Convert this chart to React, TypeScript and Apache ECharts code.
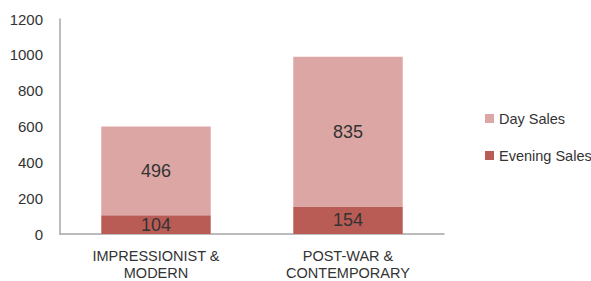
import React, { useEffect, useRef } from "react";
import * as echarts from "echarts";

const categories = ["IMPRESSIONIST &\nMODERN", "POST-WAR &\nCONTEMPORARY"];
const eveningSales = [104, 154];
const daySales = [496, 835];
const yTicks = [0, 200, 400, 600, 800, 1000, 1200];

const FONT = "'Liberation Sans', Arial, sans-serif";

export default function App() {
  const ref = useRef<HTMLDivElement>(null);
  useEffect(() => {
    if (!ref.current) return;
    const chart = echarts.init(ref.current, undefined, { renderer: "svg" });
    chart.setOption({
      animation: false,
      textStyle: { fontFamily: FONT },
      grid: { left: 60, right: 147, top: 19, bottom: 46 },
      legend: {
        orient: "vertical",
        left: 480,
        top: 106,
        itemWidth: 9,
        itemHeight: 9,
        itemGap: 22,
        icon: "rect",
        data: ["Day Sales", "Evening Sales"],
        textStyle: { fontFamily: FONT, fontSize: 14.5, color: "#333" },
      },
      xAxis: {
        type: "category",
        data: categories,
        axisLine: { lineStyle: { color: "#a6a6a6", width: 1.5 } },
        axisTick: { show: false },
        axisLabel: { fontFamily: FONT, fontSize: 14.5, color: "#333", lineHeight: 17, margin: 13 },
      },
      yAxis: {
        type: "value",
        min: yTicks[0],
        max: yTicks[yTicks.length - 1],
        interval: 200,
        axisLine: { show: true, lineStyle: { color: "#a6a6a6", width: 1.5 } },
        axisTick: { show: false },
        splitLine: { show: false },
        axisLabel: {
          fontFamily: FONT,
          fontSize: 15,
          color: "#333",
          margin: 17,
          formatter: (v: number) => String(v),
        },
      },
      series: [
        {
          name: "Evening Sales",
          type: "bar",
          stack: "total",
          data: eveningSales,
          barCategoryGap: "43%",
          itemStyle: { color: "#b95c56" },
          label: { show: true, position: "inside", fontFamily: FONT, fontSize: 18, color: "#333" },
        },
        {
          name: "Day Sales",
          type: "bar",
          stack: "total",
          data: daySales,
          barCategoryGap: "43%",
          itemStyle: { color: "#dca6a4" },
          label: { show: true, position: "inside", fontFamily: FONT, fontSize: 18, color: "#333" },
        },
      ],
    });
    return () => chart.dispose();
  }, []);
  return <div ref={ref} style={{ width: 591, height: 281, position: "absolute", left: 0, top: 0 }} />;
}
